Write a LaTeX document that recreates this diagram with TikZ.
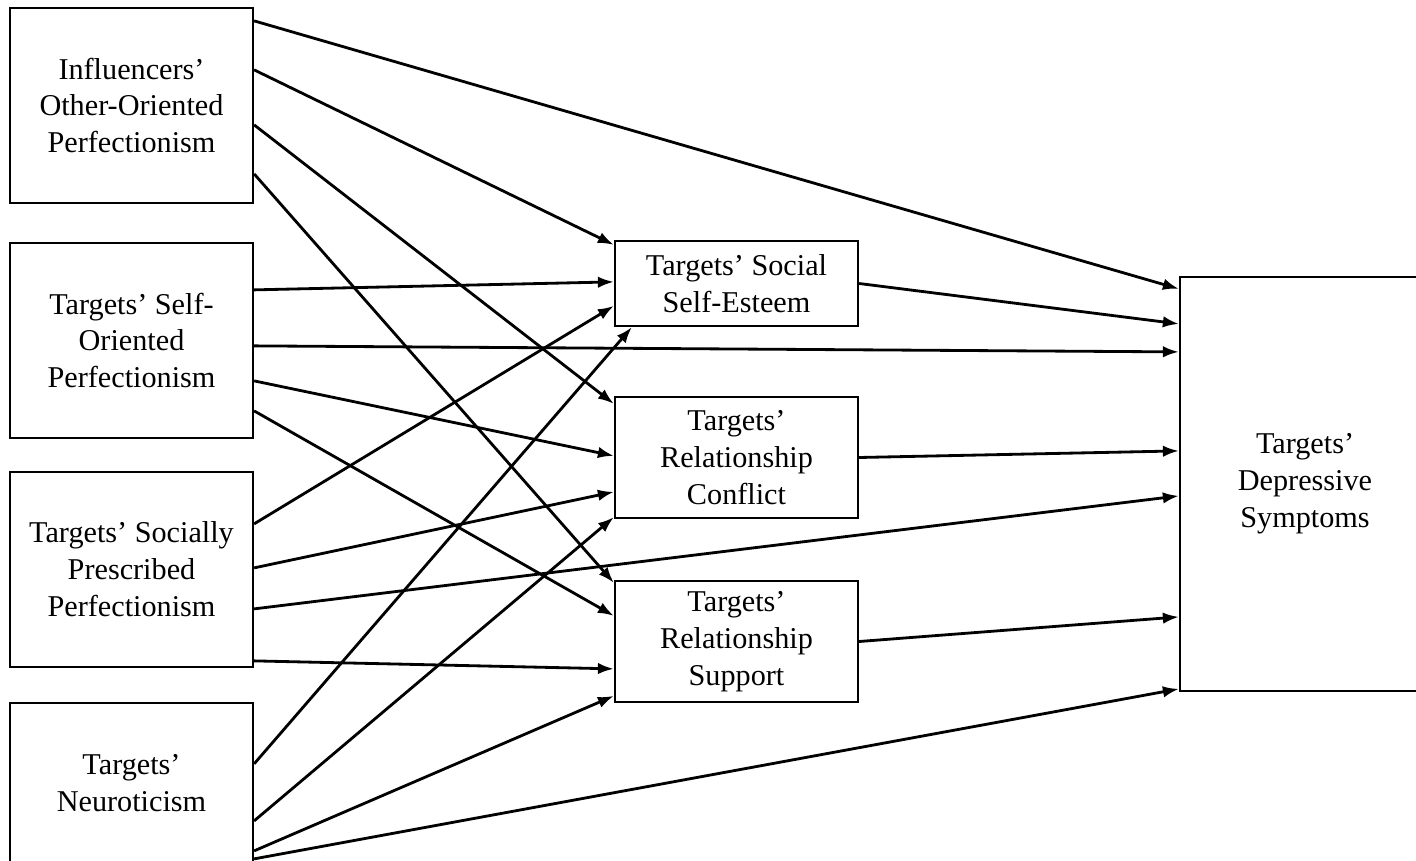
\documentclass[tikz,border=0pt]{standalone}
\usepackage{fontspec}
\setmainfont{Liberation Serif}
\usetikzlibrary{arrows.meta,calc}

\tikzset{
	varbox/.style={draw, line width=1.3pt, inner sep=0pt, align=center,
		minimum width=4.86cm, font=\fontsize{17.2}{21}\selectfont},
	effect/.style={-{Latex[length=3.2mm,width=2.3mm]}, line width=1.6pt}
}

\begin{document}
\begin{tikzpicture}[x=0.02cm, y=-0.02cm]
	\useasboundingbox (0,0) rectangle (1416,861);
	% predictors
	\node (ioop) [varbox, minimum height=3.9cm] at (131.5,105.5) {Influencers’\\Other-Oriented\\Perfectionism};
	\node (tsop) [varbox, minimum height=3.9cm] at (131.5,340.5) {Targets’ Self-\\Oriented\\Perfectionism};
	\node (tspp) [varbox, minimum height=3.9cm] at (131.5,569.5) {Targets’ Socially\\Prescribed\\Perfectionism};
	\node (tneu) [varbox, minimum height=3.2cm] at (131.5,783) {Targets’\\Neuroticism};
	% mediators
	\node (tsse) [varbox, minimum height=1.7cm] at (736.5,283.5) {Targets’ Social\\Self-Esteem};
	\node (trc) [varbox, minimum height=2.42cm] at (736.5,457.5) {Targets’\\Relationship\\Conflict};
	\node (trs) [varbox, minimum height=2.42cm] at (736.5,641.5) {Targets’\\Relationship\\Support};
	% outcome
	\node (tdep) [varbox, minimum width=5cm, minimum height=8.28cm] at (1305,484) {Targets’\\Depressive\\Symptoms};

	% paths from influencers' other-oriented perfectionism
	\draw [effect] ($(ioop.north east)+(0,14)$) -- ($(tdep.north west)+(0,13)$);
	\draw [effect] ($(ioop.north east)+(0,63)$) -- ($(tsse.north west)+(0,5)$);
	\draw [effect] ($(ioop.north east)+(0,118)$) -- ($(trc.north west)+(0,8)$);
	\draw [effect] ($(ioop.north east)+(0,167)$) -- ($(trs.north west)+(0,3)$);
	% paths from targets' self-oriented perfectionism
	\draw [effect] ($(tsop.north east)+(0,48)$) -- ($(tsse.north west)+(0,42)$);
	\draw [effect] ($(tsop.north east)+(0,104)$) -- ($(tdep.north west)+(0,76)$);
	\draw [effect] ($(tsop.north east)+(0,139)$) -- ($(trc.north west)+(0,60)$);
	\draw [effect] ($(tsop.north east)+(0,169)$) -- ($(trs.north west)+(0,36)$);
	% paths from targets' socially prescribed perfectionism
	\draw [effect] ($(tspp.north east)+(0,53)$) -- ($(tsse.north west)+(0,66)$);
	\draw [effect] ($(tspp.north east)+(0,97)$) -- ($(trc.north west)+(0,96)$);
	\draw [effect] ($(tspp.north east)+(0,138)$) -- ($(tdep.north west)+(0,220)$);
	\draw [effect] ($(tspp.north east)+(0,190)$) -- ($(trs.north west)+(0,89)$);
	% paths from targets' neuroticism
	\draw [effect] ($(tneu.north east)+(0,62)$) -- ($(tsse.south west)+(18,0)$);
	\draw [effect] ($(tneu.north east)+(0,119)$) -- ($(trc.south west)+(0,-2)$);
	\draw [effect] ($(tneu.north east)+(0,149)$) -- ($(trs.north west)+(0,116)$);
	\draw [effect] ($(tneu.north east)+(0,157)$) -- ($(tdep.north west)+(0,413)$);
	% mediators to outcome
	\draw [effect] (tsse.east) -- ($(tdep.north west)+(0,48)$);
	\draw [effect] (trc.east) -- ($(tdep.north west)+(0,175)$);
	\draw [effect] (trs.east) -- ($(tdep.north west)+(0,341)$);
\end{tikzpicture}
\end{document}
